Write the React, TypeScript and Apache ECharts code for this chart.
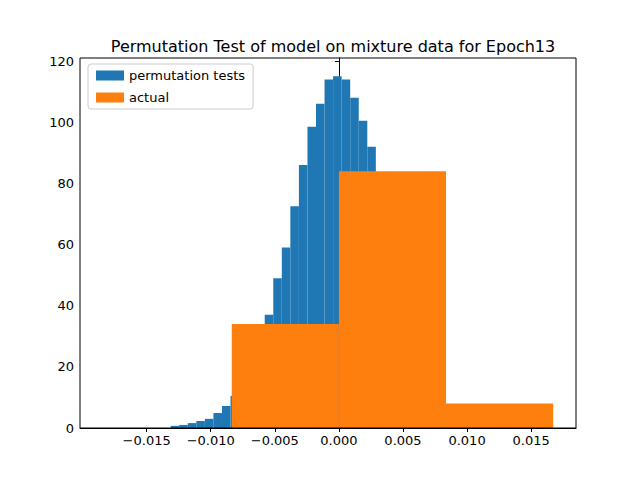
import * as React from "react";
import * as echarts from "echarts";
import { useEffect, useRef } from "react";

// permutation histogram: bins start at permStart, each permWidth wide
const permStart = -0.013125;
const permWidth = 0.000667;
const permCounts = [
  0.7, 1, 1.6, 2.3, 3, 4.9, 7.2, 10.5, 15, 21, 28, 37, 49, 59, 72.5, 86, 98.5,
  106, 114, 115, 114, 108, 100.5, 92, 80, 68, 55, 43, 33, 24, 17, 12, 7, 5, 3,
  2, 1, 0.6,
];
// actual histogram
const actualEdges = [-0.00836, 0, 0.00836, 0.01672];
const actualCounts = [34, 84, 8];
const xTicks = [-0.015, -0.01, -0.005, 0, 0.005, 0.01, 0.015];

const permData = permCounts.map((c, i) => [
  permStart + i * permWidth,
  permStart + (i + 1) * permWidth,
  c,
]);
const actualData = actualCounts.map((c, i) => [actualEdges[i], actualEdges[i + 1], c]);

const renderBar = (color: string) => (params: any, api: any) => {
  const p0 = api.coord([api.value(0), api.value(2)]);
  const p1 = api.coord([api.value(1), 0]);
  return {
    type: "rect",
    shape: { x: p0[0], y: p0[1], width: p1[0] - p0[0], height: p1[1] - p0[1] },
    style: { fill: color },
  };
};

const fmt = (v: number) => {
  const s = Math.abs(v).toFixed(3);
  return v < -1e-9 ? "\u2212" + s : s;
};

const App = () => {
  const chartRef = useRef<HTMLDivElement>(null);

  useEffect(() => {
    if (!chartRef.current) return;
    const chart = echarts.init(chartRef.current, null, { renderer: "svg" });
    const font = "DejaVu Sans";
    chart.setOption({
      animation: false,
      title: {
        text: "Permutation Test of model on mixture data for Epoch13",
        left: 328,
        top: 33,
        textAlign: "center",
        textStyle: { fontFamily: font, fontSize: 16, fontWeight: "normal", color: "#000" },
      },
      legend: {
        left: 88,
        top: 64,
        orient: "vertical",
        itemWidth: 28,
        itemHeight: 10,
        itemGap: 9,
        padding: [5, 8, 5, 8],
        borderColor: "#ccc",
        borderWidth: 1,
        borderRadius: 3,
        backgroundColor: "#fff",
        textStyle: { fontFamily: font, fontSize: 13, color: "#000" },
        data: [
          { name: "permutation tests", icon: "rect" },
          { name: "actual", icon: "rect" },
        ],
      },
      grid: { left: 80, right: 64, top: 58, bottom: 52 },
      xAxis: {
        type: "value",
        min: -0.0202,
        max: 0.0185,
        axisLine: { onZero: false, lineStyle: { color: "#000" } },
        axisTick: { show: true, customValues: xTicks, length: 4, lineStyle: { color: "#000" } },
        axisLabel: {
          customValues: xTicks,
          formatter: fmt,
          fontFamily: font,
          fontSize: 13,
          color: "#000",
          margin: 6,
        },
        splitLine: { show: false },
      },
      yAxis: {
        type: "value",
        min: 0,
        max: 121,
        interval: 20,
        axisLine: { show: true, lineStyle: { color: "#000" } },
        axisTick: { show: true, length: 4, lineStyle: { color: "#000" } },
        axisLabel: { fontFamily: font, fontSize: 13, color: "#000", margin: 6 },
        splitLine: { show: false },
      },
      series: [
        {
          name: "permutation tests",
          type: "custom",
          color: "#1f77b4",
          renderItem: renderBar("#1f77b4"),
          encode: { x: [0, 1], y: 2 },
          data: permData,
        },
        {
          name: "actual",
          type: "custom",
          color: "#ff7f0e",
          renderItem: renderBar("#ff7f0e"),
          encode: { x: [0, 1], y: 2 },
          data: actualData,
        },
      ],
      graphic: [
        {
          type: "rect",
          shape: { x: 80, y: 58, width: 496, height: 370 },
          style: { fill: "none", stroke: "#000", lineWidth: 1 },
          z: 100,
        },
      ],
    });
    return () => chart.dispose();
  }, []);

  return <div ref={chartRef} style={{ width: 640, height: 480, margin: -8 }} />;
};

export default App;
